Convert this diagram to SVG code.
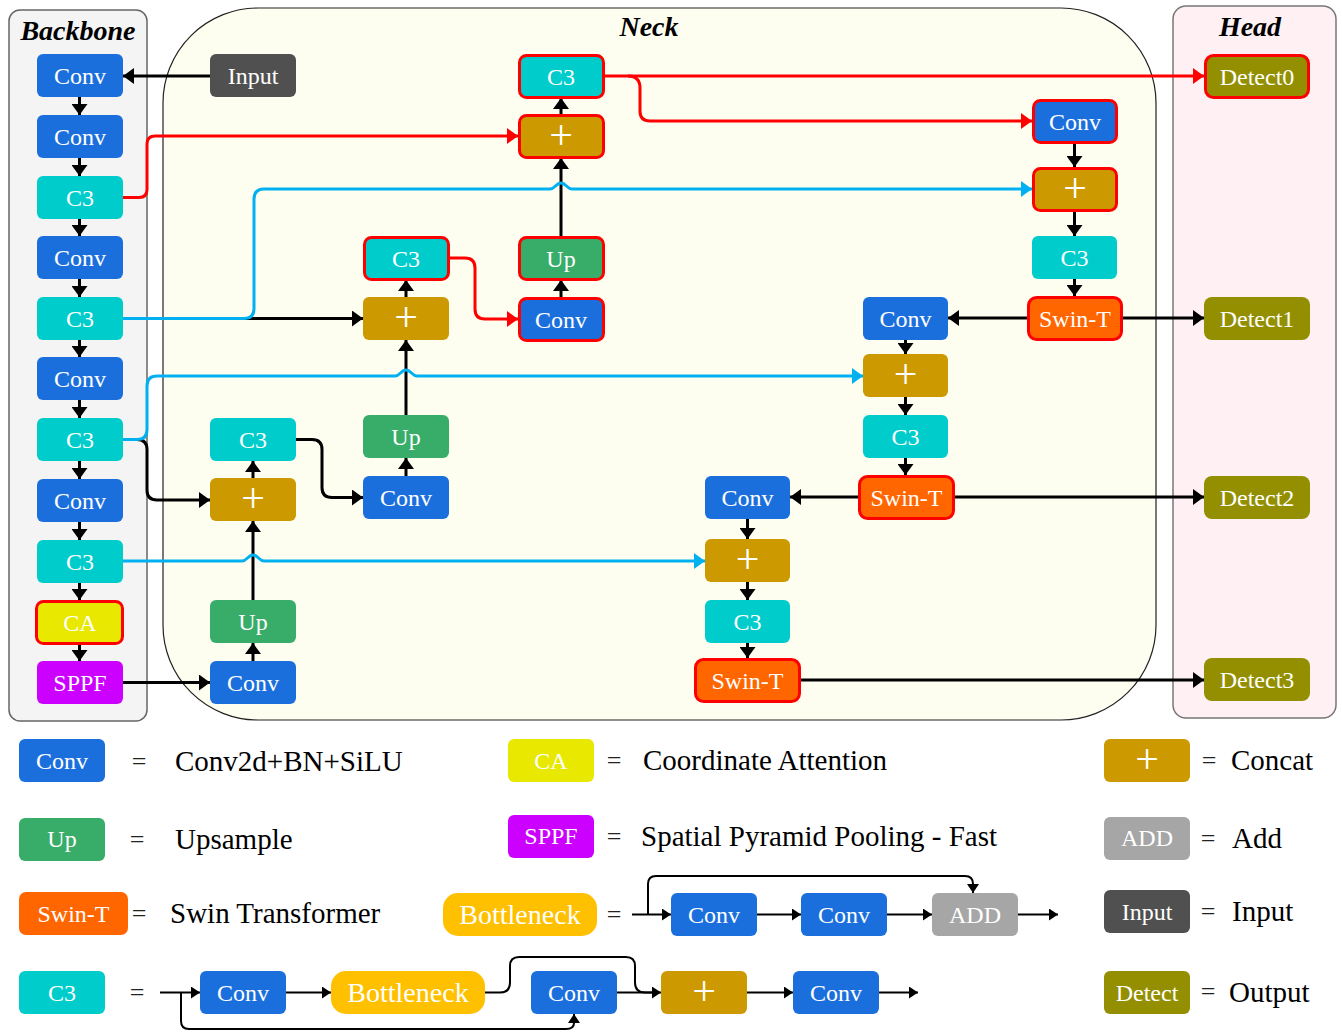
<svg xmlns="http://www.w3.org/2000/svg" width="1342" height="1033" viewBox="0 0 1342 1033">
<defs>
<style>
.t{font-family:"Liberation Serif","Times New Roman",serif;fill:#fff;font-size:24px;text-anchor:middle}
.pl{font-size:42px}
.bn{font-size:28px}
.ttl{font-family:"Liberation Serif","Times New Roman",serif;font-size:28px;font-weight:bold;font-style:italic;fill:#000;text-anchor:middle}
.lg{font-family:"Liberation Serif","Times New Roman",serif;fill:#000;font-size:29px}
.eq{font-family:"Liberation Serif","Times New Roman",serif;fill:#222;font-size:26px;text-anchor:middle}
.k{stroke:#000;stroke-width:3;fill:none}
.r{stroke:#f00;stroke-width:3;fill:none}
.b{stroke:#00b0f0;stroke-width:3;fill:none}
.th{stroke:#000;stroke-width:2;fill:none}
.conv{fill:#1b6fdd}
.c3{fill:#00cccc}
.cat{fill:#cc9900}
.up{fill:#38ad6a}
.swin{fill:#ff6600}
.det{fill:#938f00}
.inp{fill:#505050}
.ca{fill:#e8e800}
.sppf{fill:#cc00ff}
.add{fill:#a6a6a6}
.bot{fill:#ffc000}
.rb{stroke:#f00;stroke-width:3}
</style>
<marker id="ak" viewBox="0 0 11 16" refX="11" refY="8" markerWidth="11" markerHeight="16" markerUnits="userSpaceOnUse" orient="auto" preserveAspectRatio="none"><path d="M0,0L11,8L0,16z" fill="#000"/></marker>
<marker id="ar" viewBox="0 0 11 16" refX="11" refY="8" markerWidth="11" markerHeight="16" markerUnits="userSpaceOnUse" orient="auto" preserveAspectRatio="none"><path d="M0,0L11,8L0,16z" fill="#f00"/></marker>
<marker id="ab" viewBox="0 0 11 16" refX="11" refY="8" markerWidth="11" markerHeight="16" markerUnits="userSpaceOnUse" orient="auto" preserveAspectRatio="none"><path d="M0,0L11,8L0,16z" fill="#00b0f0"/></marker>
<marker id="as" viewBox="0 0 9 12" refX="9" refY="6" markerWidth="9" markerHeight="12" markerUnits="userSpaceOnUse" orient="auto" preserveAspectRatio="none"><path d="M0,0L9,6L0,12z" fill="#000"/></marker>
</defs>
<rect width="1342" height="1033" fill="#fff"/>
<g id="panels">
<rect x="9" y="10" width="138" height="711" rx="11" fill="#f4f4f4" stroke="#666" stroke-width="1.5"/>
<rect x="163" y="8" width="993" height="712" rx="95" fill="#fefef0" stroke="#222" stroke-width="1.2"/>
<rect x="1173" y="6" width="163" height="712" rx="13" fill="#fff0f4" stroke="#777" stroke-width="1.5"/>
<text class="ttl" x="78" y="40">Backbone</text>
<text class="ttl" x="649" y="36">Neck</text>
<text class="ttl" x="1250" y="36">Head</text>
</g>
<g id="connectors">
<path class="k" marker-end="url(#ak)" d="M210,76H123"/>
<path class="k" marker-end="url(#ak)" d="M79.5,97V115"/>
<path class="k" marker-end="url(#ak)" d="M79.5,158V176"/>
<path class="k" marker-end="url(#ak)" d="M79.5,219V236"/>
<path class="k" marker-end="url(#ak)" d="M79.5,279V297"/>
<path class="k" marker-end="url(#ak)" d="M79.5,340V357"/>
<path class="k" marker-end="url(#ak)" d="M79.5,400V418"/>
<path class="k" marker-end="url(#ak)" d="M79.5,461V479"/>
<path class="k" marker-end="url(#ak)" d="M79.5,522V540"/>
<path class="k" marker-end="url(#ak)" d="M79.5,583V600"/>
<path class="k" marker-end="url(#ak)" d="M79.5,643V661"/>
<path class="k" marker-end="url(#ak)" d="M123,682.5H210"/>
<path class="k" marker-end="url(#ak)" d="M253,661V643"/>
<path class="k" marker-end="url(#ak)" d="M253,600V521"/>
<path class="k" marker-end="url(#ak)" d="M253,478V461"/>
<path class="k" marker-end="url(#ak)" d="M123,439.5H137Q147,439.5 147,449.5V490Q147,500 157,500H210"/>
<path class="k" marker-end="url(#ak)" d="M296,439.5H312Q322,439.5 322,449.5V487.5Q322,497.5 332,497.5H363"/>
<path class="k" marker-end="url(#ak)" d="M406,476V458"/>
<path class="k" marker-end="url(#ak)" d="M406,415V340"/>
<path class="k" marker-end="url(#ak)" d="M406,297V280"/>
<path class="k" marker-end="url(#ak)" d="M123,318.5H363"/>
<path class="k" marker-end="url(#ak)" d="M561,297V280"/>
<path class="k" marker-end="url(#ak)" d="M561,236V158"/>
<path class="k" marker-end="url(#ak)" d="M561,114V98"/>
<path class="k" marker-end="url(#ak)" d="M1074.5,143V167"/>
<path class="k" marker-end="url(#ak)" d="M1074.5,211V236"/>
<path class="k" marker-end="url(#ak)" d="M1074.5,279V296"/>
<path class="k" marker-end="url(#ak)" d="M1027,318H948"/>
<path class="k" marker-end="url(#ak)" d="M1123,318H1204"/>
<path class="k" marker-end="url(#ak)" d="M905.5,340V354"/>
<path class="k" marker-end="url(#ak)" d="M905.5,397V415"/>
<path class="k" marker-end="url(#ak)" d="M905.5,458V475"/>
<path class="k" marker-end="url(#ak)" d="M858,497H790"/>
<path class="k" marker-end="url(#ak)" d="M955,497H1204"/>
<path class="k" marker-end="url(#ak)" d="M747.5,519V539"/>
<path class="k" marker-end="url(#ak)" d="M747.5,582V600"/>
<path class="k" marker-end="url(#ak)" d="M747.5,643V658"/>
<path class="k" marker-end="url(#ak)" d="M801,680H1204"/>
<path class="r" marker-end="url(#ar)" d="M123,197.5H139Q147,197.5 147,189.5V144Q147,136 155,136H518"/>
<path class="r" marker-end="url(#ar)" d="M605,76H1204"/>
<path class="r" marker-end="url(#ar)" d="M628,76Q640,76 640,88V111Q640,121 650,121H1032"/>
<path class="r" marker-end="url(#ar)" d="M450,258H465Q475,258 475,268V309Q475,319 485,319H518"/>
<path class="b" marker-end="url(#ab)" d="M123,318.5H244Q254,318.5 254,308.5V199Q254,189 264,189H550C555,189 556,183 561,183C566,183 567,189 572,189H1032"/>
<path class="b" marker-end="url(#ab)" d="M123,439.5H137Q147,439.5 147,429.5V386Q147,376 157,376H395C400,376 401,370 406,370C411,370 412,376 417,376H863"/>
<path class="b" marker-end="url(#ab)" d="M123,561H242C247,561 248,555 253,555C258,555 259,561 264,561H705"/>
<path class="th" marker-end="url(#as)" d="M632,914.5H671"/>
<path class="th" marker-end="url(#as)" d="M648,914.5V884Q648,876 656,876H965Q973,876 973,884V893"/>
<path class="th" marker-end="url(#as)" d="M757,914.5H801"/>
<path class="th" marker-end="url(#as)" d="M887,914.5H932"/>
<path class="th" marker-end="url(#as)" d="M1018,914.5H1058"/>
<path class="th" marker-end="url(#as)" d="M160,992.5H200"/>
<path class="th" marker-end="url(#as)" d="M181,992.5V1021Q181,1029 189,1029H566Q574,1029 574,1023V1014"/>
<path class="th" marker-end="url(#as)" d="M286,992.5H331"/>
<path class="th" d="M485,992.5H500Q510,992.5 510,982.5V966Q510,957 519,957H626Q635,957 635,966V982.5Q635,992.5 645,992.5H652"/>
<path class="th" marker-end="url(#as)" d="M617,992.5H661"/>
<path class="th" marker-end="url(#as)" d="M747,992.5H793"/>
<path class="th" marker-end="url(#as)" d="M879,992.5H918"/>
</g>
<g id="bb_conv1"><rect class="conv" x="37" y="54" width="86" height="43" rx="6"/><text class="t" x="80" y="84">Conv</text></g>
<g id="bb_conv2"><rect class="conv" x="37" y="115" width="86" height="43" rx="6"/><text class="t" x="80" y="145">Conv</text></g>
<g id="bb_c3_1"><rect class="c3" x="37" y="176" width="86" height="43" rx="6"/><text class="t" x="80" y="206">C3</text></g>
<g id="bb_conv3"><rect class="conv" x="37" y="236" width="86" height="43" rx="6"/><text class="t" x="80" y="266">Conv</text></g>
<g id="bb_c3_2"><rect class="c3" x="37" y="297" width="86" height="43" rx="6"/><text class="t" x="80" y="327">C3</text></g>
<g id="bb_conv4"><rect class="conv" x="37" y="357" width="86" height="43" rx="6"/><text class="t" x="80" y="387">Conv</text></g>
<g id="bb_c3_3"><rect class="c3" x="37" y="418" width="86" height="43" rx="6"/><text class="t" x="80" y="448">C3</text></g>
<g id="bb_conv5"><rect class="conv" x="37" y="479" width="86" height="43" rx="6"/><text class="t" x="80" y="509">Conv</text></g>
<g id="bb_c3_4"><rect class="c3" x="37" y="540" width="86" height="43" rx="6"/><text class="t" x="80" y="570">C3</text></g>
<g id="bb_ca"><rect class="ca rb" x="36.5" y="601.5" width="86" height="42" rx="7"/><text class="t" x="80" y="631">CA</text></g>
<g id="bb_sppf"><rect class="sppf" x="37" y="661" width="86" height="43" rx="6"/><text class="t" x="80" y="691">SPPF</text></g>
<g id="input"><rect class="inp" x="210" y="54" width="86" height="43" rx="6"/><text class="t" x="253" y="84">Input</text></g>
<g id="n_c3_c"><rect class="c3 rb" x="519.5" y="55.5" width="84" height="42" rx="7"/><text class="t" x="561" y="85">C3</text></g>
<g id="n_cat_c"><rect class="cat rb" x="519.5" y="115.5" width="84" height="42" rx="7"/><text class="t pl" x="561" y="149">+</text></g>
<g id="n_up_c"><rect class="up rb" x="519.5" y="237.5" width="84" height="42" rx="7"/><text class="t" x="561" y="267">Up</text></g>
<g id="n_conv_c"><rect class="conv rb" x="519.5" y="298.5" width="84" height="42" rx="7"/><text class="t" x="561" y="328">Conv</text></g>
<g id="n_c3_b"><rect class="c3 rb" x="364.5" y="237.5" width="84" height="42" rx="7"/><text class="t" x="406" y="267">C3</text></g>
<g id="n_cat_b"><rect class="cat" x="363" y="297" width="86" height="43" rx="6"/><text class="t pl" x="406" y="331">+</text></g>
<g id="n_up_b"><rect class="up" x="363" y="415" width="86" height="43" rx="6"/><text class="t" x="406" y="445">Up</text></g>
<g id="n_conv_b"><rect class="conv" x="363" y="476" width="86" height="43" rx="6"/><text class="t" x="406" y="506">Conv</text></g>
<g id="n_c3_a"><rect class="c3" x="210" y="418" width="86" height="43" rx="6"/><text class="t" x="253" y="448">C3</text></g>
<g id="n_cat_a"><rect class="cat" x="210" y="478" width="86" height="43" rx="6"/><text class="t pl" x="253" y="512">+</text></g>
<g id="n_up_a"><rect class="up" x="210" y="600" width="86" height="43" rx="6"/><text class="t" x="253" y="630">Up</text></g>
<g id="n_conv_a"><rect class="conv" x="210" y="661" width="86" height="43" rx="6"/><text class="t" x="253" y="691">Conv</text></g>
<g id="n_conv_d"><rect class="conv" x="705" y="476" width="85" height="43" rx="6"/><text class="t" x="747.5" y="506">Conv</text></g>
<g id="n_cat_d"><rect class="cat" x="705" y="539" width="85" height="43" rx="6"/><text class="t pl" x="747.5" y="573">+</text></g>
<g id="n_c3_d"><rect class="c3" x="705" y="600" width="85" height="43" rx="6"/><text class="t" x="747.5" y="630">C3</text></g>
<g id="n_swin_d"><rect class="swin rb" x="695.5" y="659.5" width="104" height="42" rx="8"/><text class="t" x="747.5" y="689">Swin-T</text></g>
<g id="n_conv_e"><rect class="conv" x="863" y="297" width="85" height="43" rx="6"/><text class="t" x="905.5" y="327">Conv</text></g>
<g id="n_cat_e"><rect class="cat" x="863" y="354" width="85" height="43" rx="6"/><text class="t pl" x="905.5" y="388">+</text></g>
<g id="n_c3_e"><rect class="c3" x="863" y="415" width="85" height="43" rx="6"/><text class="t" x="905.5" y="445">C3</text></g>
<g id="n_swin_e"><rect class="swin rb" x="859.5" y="476.5" width="94" height="42" rx="8"/><text class="t" x="906.5" y="506">Swin-T</text></g>
<g id="n_conv_f"><rect class="conv rb" x="1033.5" y="100.5" width="83" height="42" rx="7"/><text class="t" x="1075" y="130">Conv</text></g>
<g id="n_cat_f"><rect class="cat rb" x="1033.5" y="168.5" width="83" height="42" rx="7"/><text class="t pl" x="1075" y="202">+</text></g>
<g id="n_c3_f"><rect class="c3" x="1032" y="236" width="85" height="43" rx="6"/><text class="t" x="1074.5" y="266">C3</text></g>
<g id="n_swin_f"><rect class="swin rb" x="1028.5" y="297.5" width="93" height="42" rx="8"/><text class="t" x="1075" y="327">Swin-T</text></g>
<g id="detect0"><rect class="det rb" x="1205.5" y="55.5" width="103" height="42" rx="8"/><text class="t" x="1257" y="85">Detect0</text></g>
<g id="detect1"><rect class="det" x="1204" y="297" width="106" height="43" rx="8"/><text class="t" x="1257" y="327">Detect1</text></g>
<g id="detect2"><rect class="det" x="1204" y="476" width="106" height="43" rx="8"/><text class="t" x="1257" y="506">Detect2</text></g>
<g id="detect3"><rect class="det" x="1204" y="658" width="106" height="43" rx="8"/><text class="t" x="1257" y="688">Detect3</text></g>
<g id="legend">
<rect class="conv" x="19" y="739" width="86" height="43" rx="6"/><text class="t" x="62" y="769">Conv</text>
<text class="eq" x="139" y="770">=</text><text class="lg" x="175" y="771">Conv2d+BN+SiLU</text>
<rect class="ca" x="508" y="739" width="86" height="43" rx="6"/><text class="t" x="551" y="769">CA</text>
<text class="eq" x="614" y="769">=</text><text class="lg" x="643" y="770">Coordinate Attention</text>
<rect class="cat" x="1104" y="739" width="86" height="43" rx="6"/><text class="t pl" x="1147" y="773">+</text>
<text class="eq" x="1209" y="769">=</text><text class="lg" x="1231" y="770">Concat</text>
<rect class="up" x="19" y="818" width="86" height="43" rx="6"/><text class="t" x="62" y="847">Up</text>
<text class="eq" x="137" y="848">=</text><text class="lg" x="175" y="849">Upsample</text>
<rect class="sppf" x="508" y="815" width="86" height="43" rx="6"/><text class="t" x="551" y="844">SPPF</text>
<text class="eq" x="614" y="845">=</text><text class="lg" x="641" y="846">Spatial Pyramid Pooling - Fast</text>
<rect class="add" x="1104" y="817" width="86" height="43" rx="6"/><text class="t" x="1147" y="846">ADD</text>
<text class="eq" x="1208" y="847">=</text><text class="lg" x="1232" y="848">Add</text>
<rect class="swin" x="19" y="892" width="109" height="43" rx="7"/><text class="t" x="73.5" y="922">Swin-T</text>
<text class="eq" x="139" y="922">=</text><text class="lg" x="170" y="923">Swin Transformer</text>
<rect class="bot" x="443" y="893" width="154" height="43" rx="15"/><text class="t bn" x="520" y="924">Bottleneck</text>
<text class="eq" x="614" y="923">=</text>
<rect class="conv" x="671" y="893" width="86" height="43" rx="6"/><text class="t" x="714" y="923">Conv</text>
<rect class="conv" x="801" y="893" width="86" height="43" rx="6"/><text class="t" x="844" y="923">Conv</text>
<rect class="add" x="932" y="893" width="86" height="43" rx="6"/><text class="t" x="975" y="923">ADD</text>
<rect class="inp" x="1104" y="890" width="86" height="43" rx="6"/><text class="t" x="1147" y="920">Input</text>
<text class="eq" x="1208" y="920">=</text><text class="lg" x="1232" y="921">Input</text>
<rect class="c3" x="19" y="971" width="86" height="43" rx="6"/><text class="t" x="62" y="1001">C3</text>
<text class="eq" x="137" y="1001">=</text>
<rect class="conv" x="200" y="971" width="86" height="43" rx="6"/><text class="t" x="243" y="1001">Conv</text>
<rect class="bot" x="331" y="971" width="154" height="43" rx="15"/><text class="t bn" x="408" y="1002">Bottleneck</text>
<rect class="conv" x="531" y="971" width="86" height="43" rx="6"/><text class="t" x="574" y="1001">Conv</text>
<rect class="cat" x="661" y="971" width="86" height="43" rx="6"/><text class="t pl" x="704" y="1005">+</text>
<rect class="conv" x="793" y="971" width="86" height="43" rx="6"/><text class="t" x="836" y="1001">Conv</text>
<rect class="det" x="1104" y="971" width="86" height="43" rx="6"/><text class="t" x="1147" y="1001">Detect</text>
<text class="eq" x="1208" y="1000">=</text><text class="lg" x="1229" y="1002">Output</text>
</g>
</svg>
